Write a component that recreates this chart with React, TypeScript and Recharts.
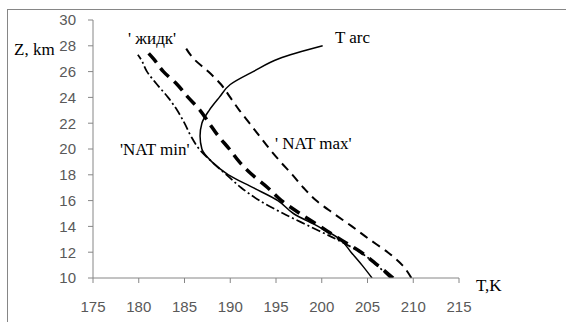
import React from 'react';
import { LineChart, Line, XAxis, YAxis } from 'recharts';

const X_TICKS = [175, 180, 185, 190, 195, 200, 205, 210, 215];
const Y_TICKS = [10, 12, 14, 16, 18, 20, 22, 24, 26, 28, 30];

// T arc (solid)
const T_ARC_Z = [10, 11, 12, 13, 14, 15, 16, 17, 18, 19, 20, 21, 22, 23, 24, 25, 26, 27, 28];
const T_ARC_T = [205.5, 204.4, 203.2, 202.0, 199.6, 196.9, 195.2, 192.5, 189.8, 188.0, 186.9, 186.7, 186.9, 187.7, 188.8, 190.0, 192.5, 195.3, 200.1];

// 'NAT min' (thin dash-dot)
const NAT_MIN_Z = [10, 11, 12, 13, 14, 15, 16, 17, 18, 19, 20, 21, 22, 23, 24, 25, 26, 27, 27.3];
const NAT_MIN_T = [207.5, 206.0, 204.2, 201.6, 198.7, 195.8, 193.2, 191.2, 189.6, 188.0, 186.6, 185.7, 185.0, 184.2, 183.2, 182.0, 180.9, 180.2, 179.9];

// 'жидк' (thick dashed)
const LIQ_Z = [10, 11, 12, 13, 14, 15, 16, 17, 18, 19, 20, 21, 22, 23, 24, 25, 26, 27, 27.7];
const LIQ_T = [207.8, 206.1, 204.3, 202.0, 199.8, 197.6, 195.6, 194.1, 192.4, 191.0, 189.9, 188.7, 187.7, 186.7, 185.4, 184.2, 182.7, 181.6, 180.7];

// 'NAT max' (dashed)
const NAT_MAX_Z = [10, 11, 12, 13, 14, 15, 16, 17, 18, 19, 20, 21, 22, 23, 24, 25, 26, 27, 28];
const NAT_MAX_T = [209.8, 208.8, 207.2, 205.2, 203.3, 201.3, 199.4, 198.0, 196.8, 195.5, 194.3, 193.2, 192.1, 191.0, 190.0, 189.0, 187.6, 186.0, 185.0];

const toPoints = (z: number[], t: number[]) => z.map((zv, i) => ({ z: zv, t: t[i] }));

const AXIS = '#868686';
const TICK = { fill: '#595959', fontSize: 15, fontFamily: 'Liberation Sans' };
const SERIF = { fontFamily: 'Liberation Serif', fontSize: 17, fill: '#000' };

export default function App() {
  return (
    <div style={{ position: 'absolute', left: 0, top: 0, width: 566, height: 322, overflow: 'hidden', background: '#fff' }}>
      <div
        style={{
          position: 'absolute', left: 7, top: 9, width: 559, height: 313, boxSizing: 'border-box',
          borderLeft: `1px solid ${AXIS}`, borderTop: `1px solid ${AXIS}`,
        }}
      />
      <div style={{ position: 'absolute', left: 0, top: 0 }}>
        <LineChart width={566} height={322} margin={{ top: 20, right: 107, bottom: 14, left: 33 }}>
          <XAxis
            type="number" dataKey="t" domain={[175, 215]} ticks={X_TICKS} allowDataOverflow
            height={30} tickSize={5} tickMargin={18} stroke={AXIS} tick={TICK} interval={0}
          />
          <YAxis
            type="number" domain={[10, 30]} ticks={Y_TICKS} allowDataOverflow
            width={60} tickSize={5} tickMargin={12} stroke={AXIS} tick={TICK} interval={0}
          />
          <Line data={toPoints(NAT_MAX_Z, NAT_MAX_T)} dataKey="z" type="monotoneY" stroke="#000" strokeWidth={2} strokeDasharray="9 6" dot={false} isAnimationActive={false} />
          <Line data={toPoints(LIQ_Z, LIQ_T)} dataKey="z" type="monotoneY" stroke="#000" strokeWidth={3.5} strokeDasharray="12 7" dot={false} isAnimationActive={false} />
          <Line data={toPoints(NAT_MIN_Z, NAT_MIN_T)} dataKey="z" type="monotoneY" stroke="#000" strokeWidth={1.75} strokeDasharray="9 3 2 3" dot={false} isAnimationActive={false} />
          <Line data={toPoints(T_ARC_Z, T_ARC_T)} dataKey="z" type="monotoneY" stroke="#000" strokeWidth={1.5} dot={false} isAnimationActive={false} />
        </LineChart>
      </div>
      <svg width={566} height={322} style={{ position: 'absolute', left: 0, top: 0, pointerEvents: 'none' }}>
        <text x={14} y={55} {...SERIF}>Z, km</text>
        <text x={128} y={44} {...SERIF}>' жидк'</text>
        <text x={335} y={43} {...SERIF}>T arc</text>
        <text x={120} y={155} {...SERIF}>'NAT min'</text>
        <text x={275} y={149} {...SERIF}>' NAT max'</text>
        <text x={476} y={291} {...SERIF}>T,K</text>
      </svg>
    </div>
  );
}
